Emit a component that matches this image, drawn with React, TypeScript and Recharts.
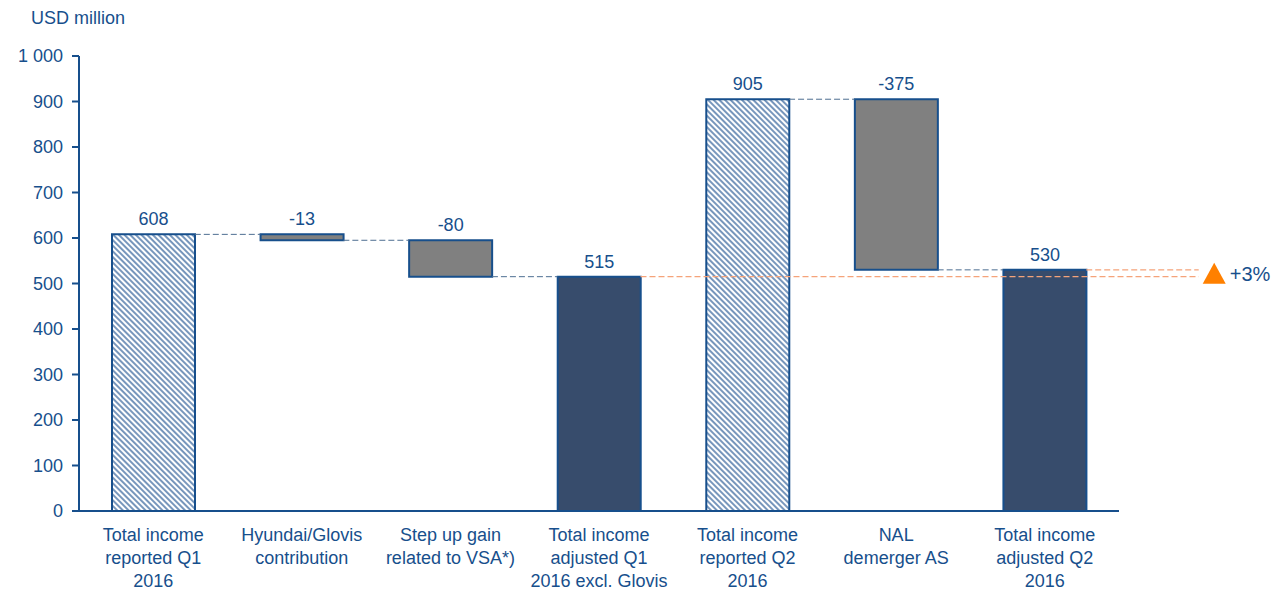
import React from "react";
import { Bar, BarChart, Cell, LabelList, ReferenceLine, XAxis, YAxis } from "recharts";

const categories = [
  "Total income\nreported Q1\n2016",
  "Hyundai/Glovis\ncontribution",
  "Step up gain\nrelated to VSA*)",
  "Total income\nadjusted Q1\n2016 excl. Glovis",
  "Total income\nreported Q2\n2016",
  "NAL\ndemerger AS",
  "Total income\nadjusted Q2\n2016",
];
const lows = [0, 595, 515, 0, 0, 530, 0];
const highs = [608, 608, 595, 515, 905, 905, 530];
const valueLabels = ["608", "-13", "-80", "515", "905", "-375", "530"];
const kinds = ["reported", "change", "change", "adjusted", "reported", "change", "adjusted"];
const yTicks = [0, 100, 200, 300, 400, 500, 600, 700, 800, 900, 1000];
const growthLabel = "+3%";
const unitLabel = "USD million";

const BLUE = "#174F8C";
const FONT = '"Liberation Sans", Arial, sans-serif';
const BAR_SIZE = 83;
const EXTEND = 154;

const fills: Record<string, string> = {
  reported: "url(#hatch)",
  change: "#808080",
  adjusted: "#374C6C",
};

const data = categories.map((name, i) => ({
  name,
  range: [lows[i], highs[i]],
  label: valueLabels[i],
  kind: kinds[i],
}));

// level where the step line leaves bar i
const levelAfter = (i: number) => (kinds[i] === "change" ? lows[i] : highs[i]);

const formatTick = (v: number) =>
  v >= 1000 ? `${Math.floor(v / 1000)} ${String(v % 1000).padStart(3, "0")}` : String(v);

function CategoryTick({ x, y, payload }: any) {
  const lines = String(payload.value).split("\n");
  return (
    <text x={x} y={y + 30} textAnchor="middle" fill={BLUE} fontSize={18} fontFamily={FONT}>
      {lines.map((l, i) => (
        <tspan key={i} x={x} dy={i === 0 ? 0 : 23}>
          {l}
        </tspan>
      ))}
    </text>
  );
}

function ValueLabel({ x, y, width, index }: any) {
  return (
    <text
      x={x + width / 2}
      y={y - 9}
      textAnchor="middle"
      fill={BLUE}
      fontSize={18}
      fontFamily={FONT}
    >
      {valueLabels[index]}
    </text>
  );
}

function Connector({ x1, y1, x2 }: any) {
  return (
    <line
      x1={x1 + BAR_SIZE / 2}
      x2={x2 - BAR_SIZE / 2}
      y1={y1}
      y2={y1}
      stroke="#4D6E91"
      strokeWidth={1}
      strokeDasharray="6 3"
    />
  );
}

function Extension({ x1, y1 }: any) {
  return (
    <line
      x1={x1 + BAR_SIZE / 2}
      x2={x1 + EXTEND}
      y1={y1}
      y2={y1}
      stroke="#F5A37A"
      strokeWidth={1.3}
      strokeDasharray="6 3"
    />
  );
}

function GrowthLine({ x1, y1, x2 }: any) {
  const end = x2 + EXTEND;
  const tx = end + 4;
  return (
    <g>
      <line
        x1={x1 + BAR_SIZE / 2}
        x2={end}
        y1={y1}
        y2={y1}
        stroke="#F5A37A"
        strokeWidth={1.3}
        strokeDasharray="6 3"
      />
      <polygon
        points={`${tx},${y1 + 7} ${tx + 23},${y1 + 7} ${tx + 11.5},${y1 - 14}`}
        fill="#FF8000"
      />
      <text x={tx + 27} y={y1 + 4} fill={BLUE} fontSize={20} fontFamily={FONT}>
        {growthLabel}
      </text>
    </g>
  );
}

export default function App() {
  return (
    <div style={{ position: "absolute", left: 0, top: 0, width: 1274, height: 591, background: "#fff" }}>
      <div
        style={{
          position: "absolute",
          left: 31,
          top: 8,
          fontFamily: FONT,
          fontSize: 18,
          color: BLUE,
          lineHeight: "21px",
        }}
      >
        {unitLabel}
      </div>
      <BarChart
        width={1274}
        height={591}
        data={data}
        margin={{ top: 56, right: 155, bottom: 0, left: 0 }}
      >
        <defs>
          <pattern
            id="hatch"
            width="4"
            height="4"
            patternUnits="userSpaceOnUse"
            patternTransform="rotate(-45)"
          >
            <rect width="4" height="4" fill="#fff" />
            <line x1="2" y1="0" x2="2" y2="4" stroke="#5F84B0" strokeWidth="1.7" />
          </pattern>
        </defs>
        <XAxis
          dataKey="name"
          height={80}
          axisLine={{ stroke: BLUE, strokeWidth: 2 }}
          tickLine={false}
          tickSize={0}
          tickMargin={0}
          interval={0}
          tick={<CategoryTick />}
        />
        <YAxis
          width={79}
          domain={[0, 1000]}
          ticks={yTicks}
          interval={0}
          tickFormatter={formatTick}
          axisLine={{ stroke: BLUE, strokeWidth: 2 }}
          tickLine={{ stroke: BLUE, strokeWidth: 2 }}
          tickSize={7}
          tickMargin={9}
          tick={{ fill: BLUE, fontSize: 18, fontFamily: FONT }}
        />
        <Bar
          dataKey="range"
          barSize={BAR_SIZE}
          stroke={BLUE}
          strokeWidth={2}
          isAnimationActive={false}
        >
          {data.map((d) => (
            <Cell key={d.name} fill={fills[d.kind]} />
          ))}
          <LabelList dataKey="label" content={<ValueLabel />} />
        </Bar>
        {[0, 1, 2, 4, 5].map((i) => (
          <ReferenceLine
            key={`c${i}`}
            segment={[
              { x: categories[i], y: levelAfter(i) },
              { x: categories[i + 1], y: levelAfter(i) },
            ]}
            shape={(p: any) => <Connector {...p} />}
          />
        ))}
        <ReferenceLine
          segment={[
            { x: categories[6], y: levelAfter(6) },
            { x: categories[6], y: levelAfter(6) },
          ]}
          shape={(p: any) => <Extension {...p} />}
        />
        <ReferenceLine
          segment={[
            { x: categories[3], y: levelAfter(3) },
            { x: categories[6], y: levelAfter(3) },
          ]}
          shape={(p: any) => <GrowthLine {...p} />}
        />
      </BarChart>
    </div>
  );
}
